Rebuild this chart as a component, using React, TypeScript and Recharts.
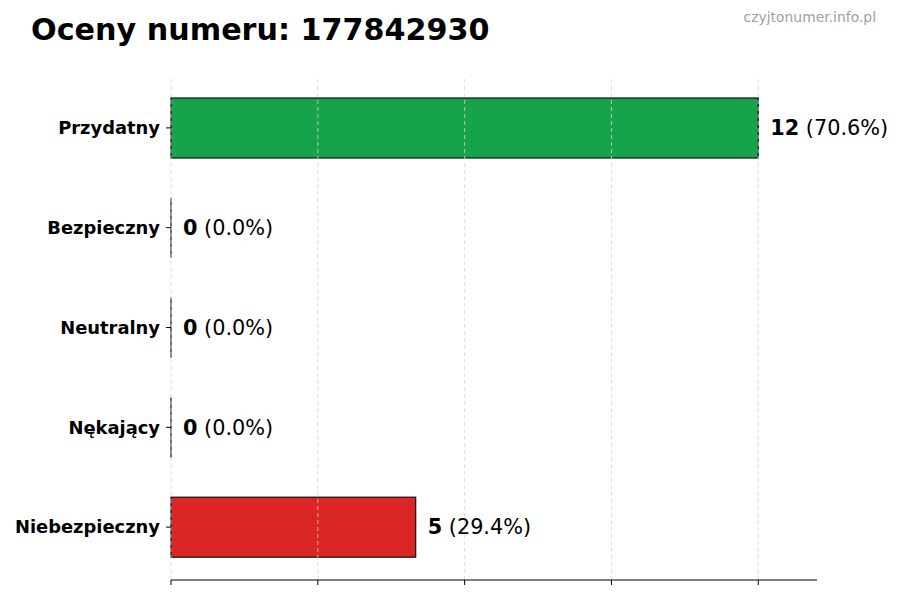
import React from "react"
import { Bar, BarChart, Cell, LabelList, ReferenceLine, XAxis, YAxis } from "recharts"

const categories = ["Przydatny", "Bezpieczny", "Neutralny", "Nękający", "Niebezpieczny"]
const counts = [12, 0, 0, 0, 5]
const percents = ["70.6", "0.0", "0.0", "0.0", "29.4"]
const barColors = ["#16a34a", "#9ca3af", "#60a5fa", "#f59e0b", "#dc2626"]
const xTicks = [0, 3, 6, 9, 12]

const data = categories.map((name, i) => ({ name, count: counts[i], pct: percents[i] }))

const FONT = "'DejaVu Sans', sans-serif"

// zero-width bars still show their edge as a thin line
const BarShape = (props: any) => {
  const { x, y, width, height, fill } = props
  if (!width || width < 0.5) {
    return <line x1={x} x2={x} y1={y} y2={y + height} stroke="#111" strokeWidth={1.2} />
  }
  return <rect x={x} y={y} width={width} height={height} fill={fill} stroke="#111" strokeWidth={1.2} />
}

const ValueLabel = (props: any) => {
  const { x, y, width, height, index } = props
  const row = data[index]
  return (
    <text x={x + width + 12} y={y + height / 2} dy="0.35em" fontFamily={FONT} fontSize={20.8} fill="#000">
      <tspan fontWeight="bold">{row.count}</tspan>
      <tspan> ({row.pct}%)</tspan>
    </text>
  )
}

export default function App() {
  return (
    <div style={{ position: "absolute", left: 0, top: 0, width: 900, height: 600, background: "#fff" }}>
      <BarChart
        width={900}
        height={600}
        data={data}
        layout="vertical"
        margin={{ top: 76, right: 83, bottom: 10, left: 11 }}
      >
        <XAxis
          type="number"
          domain={[0, 13.2]}
          ticks={xTicks}
          tickFormatter={() => ""}
          height={10}
          tickSize={5}
          axisLine={{ stroke: "#000", strokeWidth: 1.2 }}
          tickLine={{ stroke: "#000" }}
        />
        <YAxis
          type="category"
          dataKey="name"
          width={160}
          axisLine={false}
          tickSize={5}
          tickMargin={6}
          tickLine={{ stroke: "#000" }}
          padding={{ top: 2, bottom: 3 }}
          tick={{ fontFamily: FONT, fontSize: 17.9, fontWeight: "bold", fill: "#000" }}
        />
        <Bar dataKey="count" barSize={60} shape={BarShape} isAnimationActive={false}>
          {data.map((d, i) => (
            <Cell key={d.name} fill={barColors[i]} />
          ))}
          <LabelList dataKey="count" content={ValueLabel} />
        </Bar>
        {xTicks.map((t) => (
          <ReferenceLine key={t} x={t} stroke="#d4d4d4" strokeDasharray="4 3" strokeWidth={0.8} />
        ))}
      </BarChart>
      <svg width={900} height={60} style={{ position: "absolute", left: 0, top: 0 }}>
        <text x={31} y={40} fontFamily={FONT} fontSize={30.2} fontWeight="bold" fill="#000">
          Oceny numeru: 177842930
        </text>
        <text x={876} y={22} textAnchor="end" fontFamily={FONT} fontSize={13.9} fill="#a0a0a0">
          czyjtonumer.info.pl
        </text>
      </svg>
    </div>
  )
}
